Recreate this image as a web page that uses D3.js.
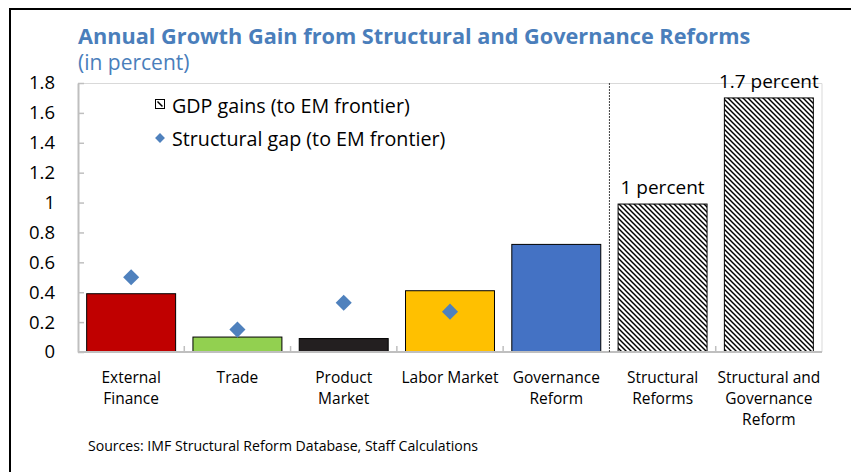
<!DOCTYPE html>
<html>
<head>
<meta charset="utf-8">
<script src="https://cdn.jsdelivr.net/npm/d3@7"></script>
<style>
  body { margin: 0; background: #fff; }
  svg { display: block; font-family: "Open Sans", sans-serif; }
</style>
</head>
<body>
<svg id="chart" width="851" height="472"></svg>
<script>
// data
var categories = ["External Finance", "Trade", "Product Market", "Labor Market",
                  "Governance Reform", "Structural Reforms", "Structural and Governance Reform"];
var categoryLines = [["External", "Finance"], ["Trade"], ["Product", "Market"], ["Labor Market"],
                     ["Governance", "Reform"], ["Structural", "Reforms"], ["Structural and", "Governance", "Reform"]];
var gdpGains = [0.39, 0.10, 0.09, 0.41, 0.72, 0.99, 1.70];
var structuralGap = [0.50, 0.15, 0.33, 0.27, null, null, null];
var barColors = ["#C00000", "#92D050", "#231F20", "#FFC000", "#4472C4", "hatch", "hatch"];
var barLabels = [null, null, null, null, null, "1 percent", "1.7 percent"];
var yTicks = [0, 0.2, 0.4, 0.6, 0.8, 1, 1.2, 1.4, 1.6, 1.8];

var svg = d3.select("#chart");

var margin = {left: 78, right: 29, top: 83, bottom: 120},
    width = 851 - margin.left - margin.right,
    height = 472 - margin.top - margin.bottom;

// hatch pattern (downward diagonal) for the aggregate bars
var defs = svg.append("defs");
var pat = defs.append("pattern")
    .attr("id", "hatch")
    .attr("patternUnits", "userSpaceOnUse")
    .attr("width", 5).attr("height", 5);
pat.append("rect").attr("width", 5).attr("height", 5).attr("fill", "#fff");
pat.append("path").attr("d", "M-1,-1L6,6M4,-1L6,1M-1,4L1,6")
    .attr("stroke", "#000").attr("stroke-width", 1.45);

// outer frame
svg.append("rect")
    .attr("x", 10).attr("y", 9).attr("width", 900).attr("height", 600)
    .attr("fill", "none").attr("stroke", "#000").attr("stroke-width", 2);

// titles
svg.append("text")
    .attr("x", 78).attr("y", 44)
    .attr("fill", "#4A7EBB").attr("font-weight", "bold").attr("font-size", 21.7)
    .text("Annual Growth Gain from Structural and Governance Reforms");
svg.append("text")
    .attr("x", 78).attr("y", 70)
    .attr("fill", "#4A7EBB").attr("font-size", 21)
    .text("(in percent)");

var g = svg.append("g").attr("transform", "translate(" + margin.left + "," + margin.top + ")");

var x = d3.scaleBand().domain(categories).range([0, width]).paddingInner(0.163).paddingOuter(0.0815);
var y = d3.scaleLinear().domain([0, 1.8]).range([height, 0]);

// plot area border (top / right)
g.append("path")
    .attr("d", "M0,0.5H" + width + "V" + height)
    .attr("fill", "none").attr("stroke", "#D9D9D9").attr("stroke-width", 1);

// y axis
var yAxis = g.append("g")
    .call(d3.axisLeft(y).tickValues(yTicks).tickSizeInner(-6).tickSizeOuter(0).tickPadding(23)
        .tickFormat(d3.format("~g")));
yAxis.select(".domain").attr("stroke", "#BFBFBF").attr("stroke-width", 2);
yAxis.selectAll(".tick line").attr("stroke", "#BFBFBF").attr("stroke-width", 1.5);
yAxis.selectAll(".tick text").attr("font-size", 18.5).attr("fill", "#000")
    .attr("font-family", "Open Sans, sans-serif");

// bars
g.selectAll(".bar")
    .data(categories)
    .join("rect")
    .attr("class", "bar")
    .attr("x", d => x(d))
    .attr("width", x.bandwidth())
    .attr("y", (d, i) => y(gdpGains[i]))
    .attr("height", (d, i) => y(0) - y(gdpGains[i]))
    .attr("fill", (d, i) => barColors[i] === "hatch" ? "url(#hatch)" : barColors[i])
    .attr("stroke", "#000").attr("stroke-width", 1);

// bar labels
g.selectAll(".barlabel")
    .data(categories.filter((d, i) => barLabels[i]))
    .join("text")
    .attr("class", "barlabel")
    .attr("x", d => x(d) + x.bandwidth() / 2)
    .attr("y", d => y(gdpGains[categories.indexOf(d)]) - 10)
    .attr("text-anchor", "middle").attr("font-size", 19)
    .text(d => barLabels[categories.indexOf(d)]);

// x axis line + boundary ticks
var x0 = x.range()[0];
g.append("line")
    .attr("x1", 0).attr("x2", width).attr("y1", height).attr("y2", height)
    .attr("stroke", "#BFBFBF").attr("stroke-width", 2);
var bounds = d3.range(1, categories.length).filter(i => i !== 5);
g.selectAll(".xtick")
    .data(bounds)
    .join("line")
    .attr("class", "xtick")
    .attr("x1", i => x0 + i * x.step()).attr("x2", i => x0 + i * x.step())
    .attr("y1", height).attr("y2", height - 6)
    .attr("stroke", "#BFBFBF").attr("stroke-width", 1.5);

// dashed separator between components and aggregates
var sepX = x0 + 5 * x.step();
g.append("line")
    .attr("x1", sepX).attr("x2", sepX).attr("y1", 0).attr("y2", height)
    .attr("stroke", "#404040").attr("stroke-width", 1).attr("stroke-dasharray", "2,1");

// category labels
var cl = g.selectAll(".catlabel")
    .data(categories)
    .join("text")
    .attr("class", "catlabel")
    .attr("text-anchor", "middle").attr("font-size", 15.5)
    .attr("transform", d => "translate(" + (x(d) + x.bandwidth() / 2) + "," + (height + 31) + ")");
cl.selectAll("tspan")
    .data((d, i) => categoryLines[i])
    .join("tspan")
    .attr("x", 0)
    .attr("y", (d, i) => i * 21)
    .text(d => d);

// structural gap diamonds
var diamond = d3.symbol().type(d3.symbolDiamond2).size(165);
g.selectAll(".gap")
    .data(categories.filter((d, i) => structuralGap[i] != null))
    .join("path")
    .attr("class", "gap")
    .attr("d", diamond)
    .attr("transform", d => "translate(" + (x(d) + x.bandwidth() / 2) + "," + y(structuralGap[categories.indexOf(d)]) + ")")
    .attr("fill", "#4F81BD");

// legend
var leg = svg.append("g").attr("transform", "translate(155,99)");
leg.append("rect").attr("x", 0.5).attr("y", 0.5).attr("width", 9).attr("height", 9)
    .attr("fill", "#fff").attr("stroke", "#000").attr("stroke-width", 1);
leg.append("path").attr("d", "M2.5,2.5L7.5,7.5").attr("stroke", "#000").attr("stroke-width", 1.5);
leg.append("text").attr("x", 17).attr("y", 14).attr("font-size", 19.7).text("GDP gains (to EM frontier)");
leg.append("path").attr("d", d3.symbol().type(d3.symbolDiamond2).size(62))
    .attr("transform", "translate(5,39)").attr("fill", "#4F81BD");
leg.append("text").attr("x", 17).attr("y", 46.5).attr("font-size", 19.7).text("Structural gap (to EM frontier)");

// source note
svg.append("text")
    .attr("x", 88).attr("y", 451)
    .attr("font-size", 14.1)
    .text("Sources: IMF Structural Reform Database, Staff Calculations");
</script>
</body>
</html>
